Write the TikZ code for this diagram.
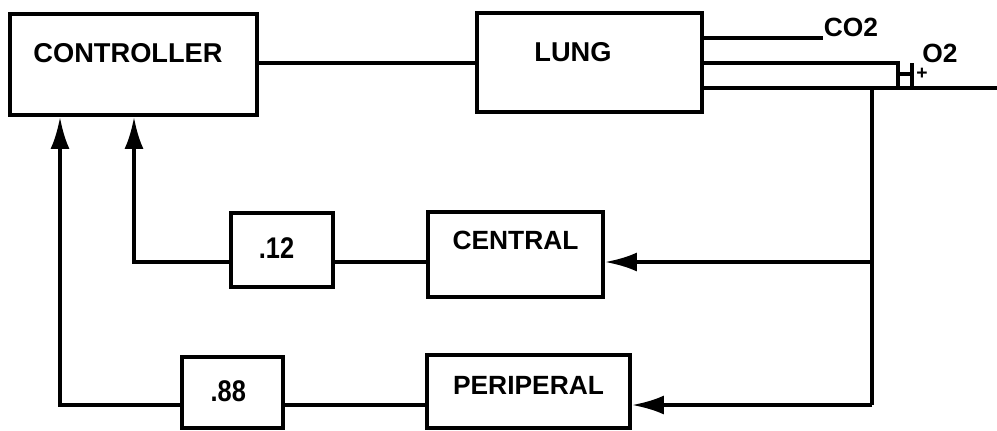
\documentclass[tikz,border=0pt]{standalone}
\usepackage{fontspec}
\setmainfont{Liberation Sans}
\usetikzlibrary{arrows.meta}
\tikzset{
    blok/.style={draw, line width=2.2pt, inner sep=0pt},
    lbl/.style={font=\bfseries\fontsize{15.5}{15.5}\selectfont},
    lblp/.style={font=\bfseries\fontsize{15}{15}\selectfont},
    gain/.style={font=\bfseries\fontsize{17}{17}\selectfont, xscale=0.85},
    fleche/.style={-{Latex[length=6.4mm,width=3.8mm]}},
  }

\begin{document}
\begin{tikzpicture}[x=0.2mm,y=-0.2mm,line width=2.2pt]
				  %cadre : 997 x 430, y vers le bas
				  \useasboundingbox (0,0) rectangle (997,430);
				  %blocs
				  \node[blok, minimum width=49.4mm, minimum height=20.2mm, label={[lbl,xshift=-1.1mm,yshift=2.3mm]center:CONTROLLER}] (ctrl) at (133.5,64.5) {};
				  \node[blok, minimum width=45mm, minimum height=19.8mm, label={[lbl,xshift=-3.3mm,yshift=2.1mm]center:LUNG}] (lung) at (589.5,62.5) {};
				  \node[blok, minimum width=35mm, minimum height=17mm, label={[lblp,yshift=2.9mm]center:CENTRAL}] (central) at (515.5,254.5) {};
				  \node[blok, minimum width=40.6mm, minimum height=14.6mm, label={[lblp,yshift=1.3mm]center:PERIPERAL}] (peri) at (528.5,391.5) {};
				  \node[blok, minimum width=20.4mm, minimum height=14.8mm, label={[gain,xshift=-1.3mm,yshift=0.3mm]center:.12}] (gainc) at (282,250) {};
				  \node[blok, minimum width=20.2mm, minimum height=14.2mm, label={[gain,xshift=-1mm,yshift=0.2mm]center:.88}] (gainp) at (232.5,392.5) {};
				  
				  \coordinate (jn) at (872,88);
				  \coordinate (jc) at (872,262);
				  \coordinate (jp) at (872,405);
				  \coordinate (up1) at (134,262);
				  \coordinate (up2) at (60,405);
				  \coordinate (co2end) at (823,38);
				  \coordinate (o2end) at (898,63);
				  
				  %controleur -> poumon
				  \draw (ctrl.east |- o2end) -- (lung.west |- o2end);
				  
				  %sorties du poumon
				  \draw (lung.east |- co2end) -- (co2end);
				  \node[lblp] (co2) at (851,27) {CO2};
				  \draw (lung.east |- o2end) -- (o2end) -- (o2end |- jn);
				  \draw (lung.east |- jn) -- (997,88);
				  \draw (912,63) -- (912,86) (898,74) -- (912,74);
				  \node[font=\bfseries\fontsize{11}{11}\selectfont, inner sep=0pt] (plus) at (922,74) {+};
				  \node[lblp] (o2) at (940,53) {O2};
				  
				  %retours
				  \draw (jn) -- (jp);
				  \draw[fleche] (jc) -- (jc -| central.east);
				  \draw (central.west |- jc) -- (gainc.east |- jc);
				  \draw[fleche] (gainc.west |- jc) -- (up1) -- (up1 |- ctrl.south);
				  \draw[fleche] (jp) -- (jp -| peri.east);
				  \draw (peri.west |- jp) -- (gainp.east |- jp);
				  \draw[fleche] (gainp.west |- jp) -- (up2) -- (up2 |- ctrl.south);
\end{tikzpicture}
\end{document}
